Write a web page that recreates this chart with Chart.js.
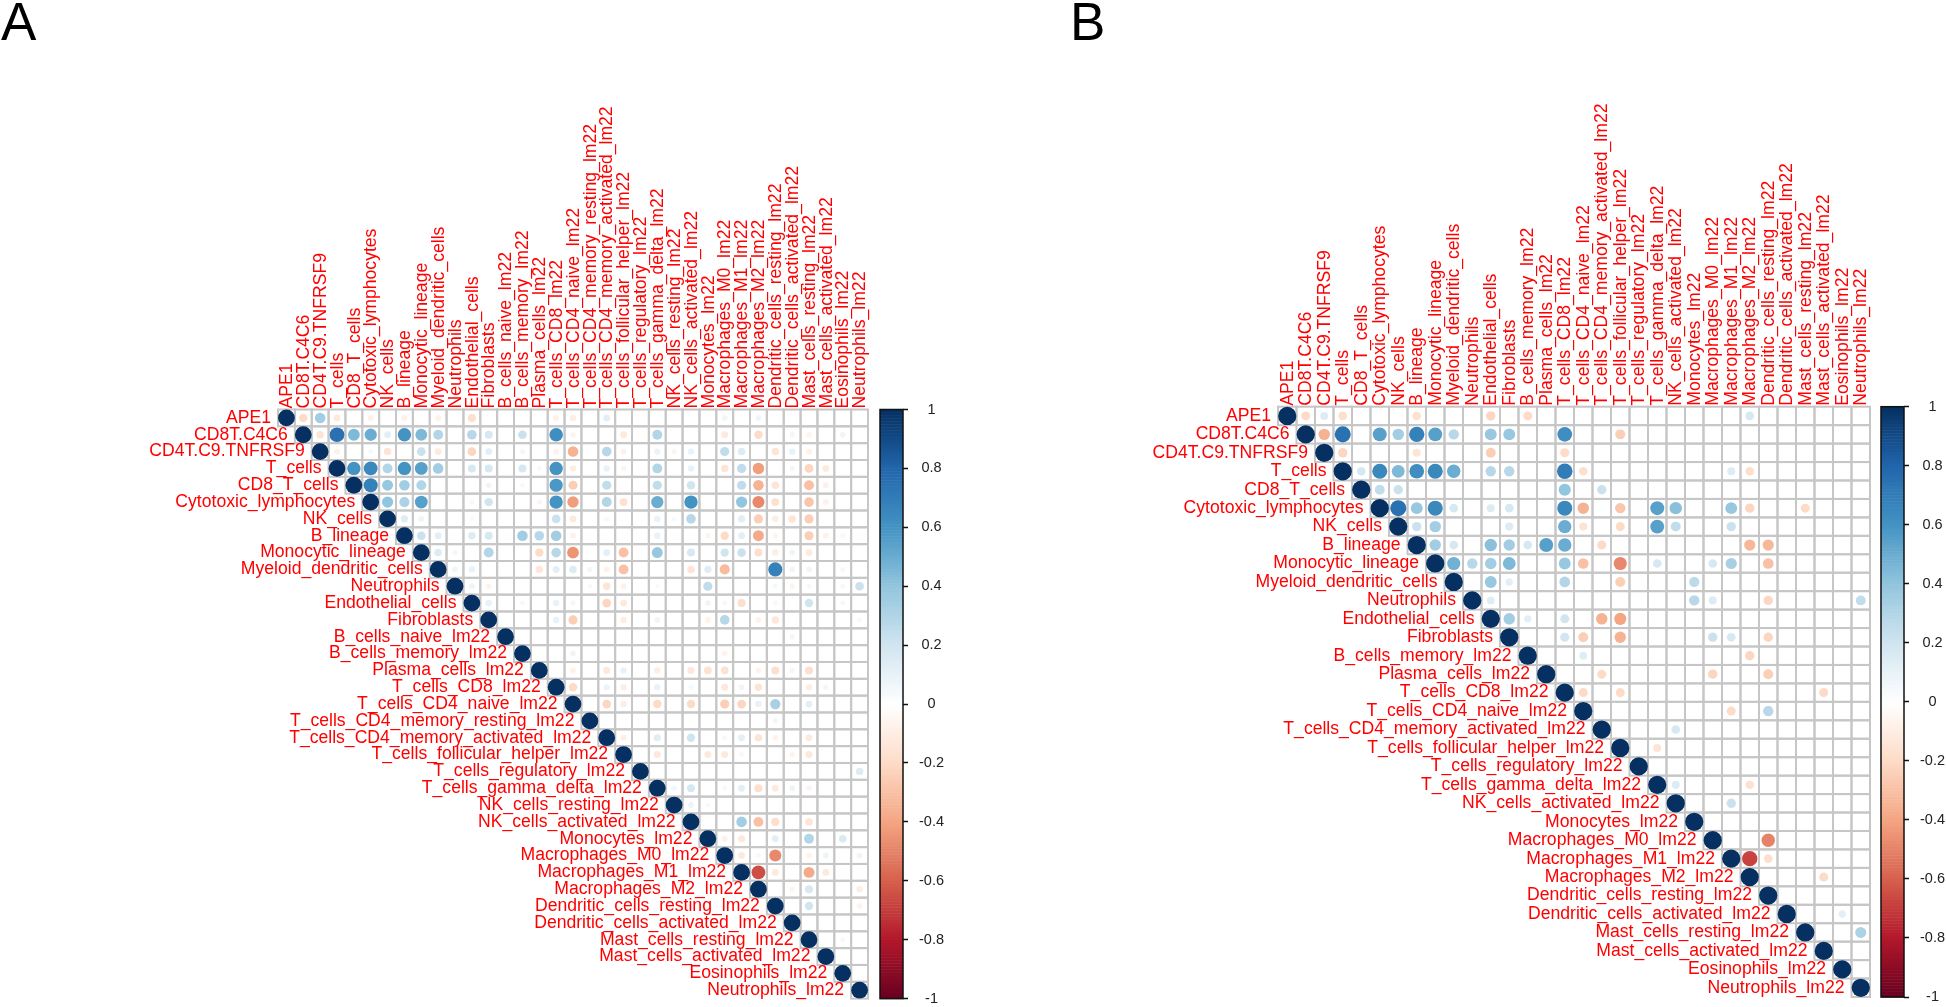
<!DOCTYPE html>
<html>
<head>
<meta charset="utf-8">
<title>Correlation matrices</title>
<script src="https://cdn.jsdelivr.net/npm/chart.js@4/dist/chart.umd.min.js"></script>
<style>
  html, body { margin: 0; padding: 0; background: #fff; }
  #page { position: relative; width: 1946px; height: 1007px; overflow: hidden; }
  canvas { position: absolute; top: 0; }
  .letter { position: absolute; top: -9px; font: 53px "Liberation Sans", sans-serif; color: #000; }
</style>
</head>
<body>
<div id="page">
  <canvas id="chartA" style="left:0"></canvas>
  <canvas id="chartB" style="left:973px"></canvas>
  <div class="letter" style="left:1px">A</div>
  <div class="letter" style="left:1070px">B</div>
</div>
<script>
// variable names, panel A
const labelsA = ["APE1", "CD8T.C4C6", "CD4T.C9.TNFRSF9", "T_cells", "CD8_T_cells", "Cytotoxic_lymphocytes",
  "NK_cells", "B_lineage", "Monocytic_lineage", "Myeloid_dendritic_cells", "Neutrophils", "Endothelial_cells",
  "Fibroblasts", "B_cells_naive_lm22", "B_cells_memory_lm22", "Plasma_cells_lm22", "T_cells_CD8_lm22",
  "T_cells_CD4_naive_lm22", "T_cells_CD4_memory_resting_lm22", "T_cells_CD4_memory_activated_lm22",
  "T_cells_follicular_helper_lm22", "T_cells_regulatory_lm22", "T_cells_gamma_delta_lm22", "NK_cells_resting_lm22",
  "NK_cells_activated_lm22", "Monocytes_lm22", "Macrophages_M0_lm22", "Macrophages_M1_lm22", "Macrophages_M2_lm22",
  "Dendritic_cells_resting_lm22", "Dendritic_cells_activated_lm22", "Mast_cells_resting_lm22",
  "Mast_cells_activated_lm22", "Eosinophils_lm22", "Neutrophils_lm22"];

// variable names, panel B
const labelsB = ["APE1", "CD8T.C4C6", "CD4T.C9.TNFRSF9", "T_cells", "CD8_T_cells", "Cytotoxic_lymphocytes",
  "NK_cells", "B_lineage", "Monocytic_lineage", "Myeloid_dendritic_cells", "Neutrophils", "Endothelial_cells",
  "Fibroblasts", "B_cells_memory_lm22", "Plasma_cells_lm22", "T_cells_CD8_lm22", "T_cells_CD4_naive_lm22",
  "T_cells_CD4_memory_activated_lm22", "T_cells_follicular_helper_lm22", "T_cells_regulatory_lm22",
  "T_cells_gamma_delta_lm22", "NK_cells_activated_lm22", "Monocytes_lm22", "Macrophages_M0_lm22",
  "Macrophages_M1_lm22", "Macrophages_M2_lm22", "Dendritic_cells_resting_lm22", "Dendritic_cells_activated_lm22",
  "Mast_cells_resting_lm22", "Mast_cells_activated_lm22", "Eosinophils_lm22", "Neutrophils_lm22"];

// legend ticks
const legendTicks = [1, 0.8, 0.6, 0.4, 0.2, 0, -0.2, -0.4, -0.6, -0.8, -1];

// RdBu ramp, low to high
const ramp = ["#67001F", "#B2182B", "#D6604D", "#F4A582", "#FDDBC7", "#FFFFFF", "#D1E5F0", "#92C5DE", "#4393C3", "#2166AC", "#053061"];

// off-diagonal correlations, one list per row: column index, value, column index, value...
const corrA = [
  [1,-.2, 2,.35, 3,-.12, 5,-.08, 7,-.08, 9,-.08, 11,-.18, 16,-.08, 17,-.1, 19,.12, 26,.07, 28,.07],
  [2,-.15, 3,.75, 4,.45, 5,.5, 6,.12, 7,.6, 8,.45, 9,.3, 11,.28, 12,.18, 14,.22, 16,.62, 17,-.06, 20,-.12, 22,.3, 26,-.12, 28,-.2, 30,.06, 31,-.06, 33,.07],
  [3,-.08, 5,.05, 6,-.15, 8,.22, 9,-.12, 11,-.22, 12,.12, 14,-.06, 16,-.08, 17,-.35, 19,.28, 20,-.08, 22,.09, 23,-.06, 24,.1, 26,.25, 27,.15, 29,-.15, 30,.1, 31,-.08],
  [4,.6, 5,.65, 6,.3, 7,.6, 8,.55, 9,.35, 11,.18, 12,.18, 14,.18, 15,-.05, 16,.6, 17,-.1, 19,.1, 20,-.06, 22,.3, 24,.1, 26,-.15, 27,.25, 28,-.42, 30,.06, 31,-.22, 32,-.12],
  [5,.68, 6,.38, 7,.35, 8,.3, 12,.07, 14,.05, 16,.58, 17,-.25, 19,.25, 22,.25, 24,.2, 27,.25, 28,-.35, 29,-.15, 31,-.3, 32,-.08],
  [6,.4, 7,.32, 8,.55, 11,.05, 12,.2, 15,-.06, 16,.6, 17,-.42, 19,.3, 20,-.17, 22,.5, 24,.6, 27,.4, 28,-.48, 29,-.17, 31,-.28, 32,-.08],
  [7,.14, 8,.08, 11,.04, 16,.22, 17,-.12, 19,.05, 22,.1, 23,.04, 24,.28, 27,.13, 28,-.25, 29,-.1, 30,-.15, 31,-.25],
  [8,.22, 9,.12, 11,.15, 12,.18, 14,.35, 15,.28, 16,.35, 17,-.08, 22,.1, 25,-.06, 26,-.2, 27,.12, 28,-.38, 29,-.06, 31,-.25, 32,-.08, 33,.05],
  [9,.15, 10,.06, 12,.3, 15,-.2, 16,.28, 17,-.45, 19,.12, 20,-.3, 22,.38, 24,.18, 26,.2, 27,.22, 28,-.18, 29,-.1, 30,.08, 31,-.12],
  [10,.07, 11,.1, 15,-.14, 16,.12, 17,.15, 18,.06, 19,-.08, 20,-.3, 24,-.15, 25,.14, 26,-.32, 29,.68, 30,.07, 31,.07, 33,.05],
  [11,.08, 12,-.07, 18,.04, 19,-.15, 20,-.08, 22,.04, 25,.25, 29,.05, 30,-.06, 31,.05, 33,.05, 34,.22],
  [12,.1, 14,.05, 16,.1, 17,.06, 19,-.22, 20,-.12, 25,.07, 26,-.05, 27,-.18, 29,.05, 31,.2, 33,.05],
  [16,.1, 17,-.25, 20,-.1, 22,.07, 25,-.07, 26,.28, 28,-.07, 29,-.14, 34,.05],
  [30,.06],
  [17,.07, 26,-.07],
  [17,-.08, 19,-.13, 20,.1, 22,-.1, 24,-.13, 25,-.16, 26,-.16, 28,-.07, 29,-.18, 30,-.06, 31,-.18],
  [17,-.2, 19,.09, 20,-.1, 22,.1, 24,.05, 26,-.13, 27,.07, 28,-.15, 31,-.1, 32,-.06],
  [19,-.22, 20,-.1, 22,-.2, 24,-.2, 26,-.25, 27,-.22, 28,.1, 29,.33, 31,.12],
  [29,.06],
  [20,-.09, 22,.13, 24,.2, 26,.05, 27,.12, 28,-.15, 29,-.07, 31,-.12],
  [22,-.13, 25,-.12, 26,-.12, 27,.05, 30,-.06, 31,-.13],
  [34,.15],
  [23,.06, 24,.18, 26,.05, 27,.12, 28,-.18, 29,-.12, 30,.08, 31,-.06],
  [24,.08, 25,.04],
  [27,.35, 28,-.3, 29,-.18, 31,-.15],
  [26,-.08, 27,-.13, 29,.12, 31,.3, 33,.16],
  [27,-.12, 28,.05, 29,-.48, 31,-.07, 32,.08, 34,.07],
  [28,-.65, 29,-.12, 31,-.38, 32,-.12],
  [30,-.06, 31,.18, 34,-.1],
  [31,.2, 34,-.07],
  [],
  [33,.05],
  [], [], []
];

const corrB = [
  [1,-.2, 2,.15, 3,-.18, 7,-.17, 11,-.22, 13,-.2, 25,.18],
  [2,-.35, 3,.75, 5,.55, 6,.35, 7,.68, 8,.55, 9,.28, 11,.38, 12,.38, 15,.62, 18,-.25],
  [3,-.22, 7,-.15, 11,-.25, 15,-.2],
  [4,.18, 5,.65, 6,.45, 7,.62, 8,.65, 9,.5, 11,.28, 12,.28, 15,.7, 16,-.18, 24,.15, 25,-.18],
  [5,.25, 6,.22, 15,.4, 17,.22],
  [6,.75, 7,.38, 8,.65, 9,.18, 11,.15, 12,.18, 15,.65, 16,-.35, 18,-.28, 20,.55, 21,.42, 24,.38, 25,-.22, 28,-.2],
  [7,.22, 8,.35, 12,.15, 15,.5, 16,-.15, 18,-.2, 20,.55, 21,.25, 24,.22],
  [8,.35, 9,.18, 11,.42, 12,.35, 13,.18, 14,.55, 15,.5, 17,-.2, 25,-.33, 26,-.33],
  [9,.48, 10,.28, 11,.35, 12,.45, 15,.38, 16,-.3, 18,-.48, 20,.18, 23,.18, 24,.33, 26,-.3],
  [11,.38, 12,.12, 15,.3, 18,-.25, 22,.27],
  [11,.14, 22,.28, 23,.15, 26,-.22, 31,.25],
  [12,.35, 13,.12, 15,.2, 17,-.35, 18,-.4],
  [15,.2, 16,-.25, 18,-.35, 23,.22, 24,.18, 26,-.22],
  [16,.14, 25,-.22],
  [17,-.2, 23,-.22, 26,-.25],
  [16,-.2, 18,-.2, 29,-.2],
  [24,-.2, 26,.28],
  [21,.18],
  [20,-.15],
  [],
  [21,.15, 25,-.17],
  [24,.22],
  [],
  [26,-.5],
  [25,-.68, 26,-.18],
  [29,-.2],
  [],
  [30,.12],
  [31,.32],
  [], [], []
];

function hexToRgb(h) {
  return [1, 3, 5].map(i => parseInt(h.slice(i, i + 2), 16));
}

// same ramp corrplot uses for the circles and the legend
function corrColor(v) {
  const t = (Math.max(-1, Math.min(1, v)) + 1) / 2 * (ramp.length - 1);
  const i = Math.min(Math.floor(t), ramp.length - 2);
  const a = hexToRgb(ramp[i]), b = hexToRgb(ramp[i + 1]);
  const f = t - i;
  return `rgb(${a.map((c, k) => Math.round(c + (b[k] - c) * f)).join(",")})`;
}

// corrplot: area follows |r|, the extra bit is the circle outline
function circleRadius(v, cell) {
  return 0.45 * Math.sqrt(Math.abs(v)) * cell + 0.8;
}

function buildPoints(labels, corr, cell) {
  const points = [];
  labels.forEach((_, row) => {
    points.push({ x: row, y: row, r: circleRadius(1, cell), v: 1 });
    const pairs = corr[row];
    for (let i = 0; i < pairs.length; i += 2) {
      const v = pairs[i + 1];
      points.push({ x: pairs[i], y: row, r: circleRadius(v, cell), v });
    }
  });
  return points;
}

// upper triangle grid, diagonal row labels, colour legend
const corrDecor = {
  id: "corrDecor",
  beforeDatasetsDraw(chart, args, opts) {
    const { ctx, scales: { x, y, yBar } } = chart;
    const n = opts.labels.length;
    ctx.save();

    ctx.strokeStyle = "#c6c6c6";
    ctx.lineWidth = 2;
    for (let r = 0; r < n; r++) {
      for (let c = r; c < n; c++) {
        const x0 = x.getPixelForValue(c - 0.5), x1 = x.getPixelForValue(c + 0.5);
        const y0 = y.getPixelForValue(r - 0.5), y1 = y.getPixelForValue(r + 0.5);
        ctx.strokeRect(x0, y0, x1 - x0, y1 - y0);
      }
    }

    // legend bar
    const barL = x.getPixelForValue(n - 0.5) + opts.barGap;
    const barR = chart.chartArea.right;
    const steps = 200;
    for (let i = 0; i < steps; i++) {
      const lo = -1 + 2 * i / steps, hi = -1 + 2 * (i + 1) / steps;
      const top = yBar.getPixelForValue(hi), bot = yBar.getPixelForValue(lo);
      ctx.fillStyle = corrColor((lo + hi) / 2);
      ctx.fillRect(barL, top, barR - barL, bot - top + 0.5);
    }
    ctx.strokeStyle = "#111";
    ctx.lineWidth = 1.5;
    ctx.strokeRect(barL, yBar.top, barR - barL, yBar.bottom - yBar.top);

    // row labels sit just left of the diagonal
    ctx.fillStyle = "#ff0000";
    ctx.font = opts.font;
    ctx.textAlign = "right";
    ctx.textBaseline = "middle";
    opts.labels.forEach((name, i) => {
      ctx.fillText(name, x.getPixelForValue(i - 0.5) - 7, y.getPixelForValue(i));
    });
    ctx.restore();
  }
};

function drawPanel(id, labels, corr, o) {
  const points = buildPoints(labels, corr, o.cell);
  return new Chart(document.getElementById(id), {
    type: "bubble",
    data: {
      datasets: [{
        data: points,
        clip: false,
        borderWidth: 0,
        hoverRadius: 0,
        backgroundColor: c => corrColor(c.raw.v)
      }]
    },
    options: {
      responsive: false,
      animation: false,
      events: [],
      layout: { padding: { left: o.left, right: 0, top: 0, bottom: o.bottom } },
      plugins: {
        legend: { display: false },
        tooltip: { enabled: false },
        corrDecor: { labels, font: o.font, barGap: o.barGap }
      },
      scales: {
        x: {
          type: "linear",
          position: "top",
          min: -0.5,
          max: o.xMax,
          grid: { display: false },
          border: { display: false },
          afterBuildTicks: s => { s.ticks = labels.map((_, i) => ({ value: i })); },
          afterFit: s => { s.height = o.top; s.paddingLeft = 0; s.paddingRight = 0; },
          ticks: {
            autoSkip: false,
            minRotation: 90,
            maxRotation: 90,
            padding: -7,
            labelOffset: 22, // chart.js pulls rotated labels a line height to the left
            color: "#ff0000",
            font: { family: "Liberation Sans", size: o.fontSize },
            callback: v => labels[v]
          }
        },
        y: {
          type: "linear",
          display: false,
          reverse: true,
          min: -0.5,
          max: labels.length - 0.5
        },
        yBar: {
          type: "linear",
          position: "right",
          min: -1,
          max: 1,
          grid: { drawOnChartArea: false, tickLength: 5, tickColor: "#111", tickWidth: 1.5 },
          border: { display: false },
          afterBuildTicks: s => { s.ticks = legendTicks.map(value => ({ value })); },
          afterFit: s => { s.width = o.barAxisWidth; s.paddingTop = 0; s.paddingBottom = 0; },
          ticks: {
            padding: 11,
            crossAlign: "center",
            color: "#222",
            font: { family: "Liberation Sans", size: 14.5 },
            callback: v => String(v)
          }
        }
      }
    },
    plugins: [corrDecor]
  });
}

function sizeCanvas(id) {
  const el = document.getElementById(id);
  el.width = 973;
  el.height = 1007;
}

sizeCanvas("chartA");
sizeCanvas("chartB");

drawPanel("chartA", labelsA, corrA, {
  cell: 16.857, left: 278, top: 409.5, bottom: 7.5, xMax: 36.576, barGap: 12, barAxisWidth: 70,
  fontSize: 17.6, font: '17.6px "Liberation Sans"'
});
drawPanel("chartB", labelsB, corrB, {
  cell: 18.5, left: 305, top: 406.7, bottom: 10, xMax: 33.338, barGap: 11, barAxisWidth: 42,
  fontSize: 17.6, font: '17.6px "Liberation Sans"'
});
</script>
</body>
</html>
